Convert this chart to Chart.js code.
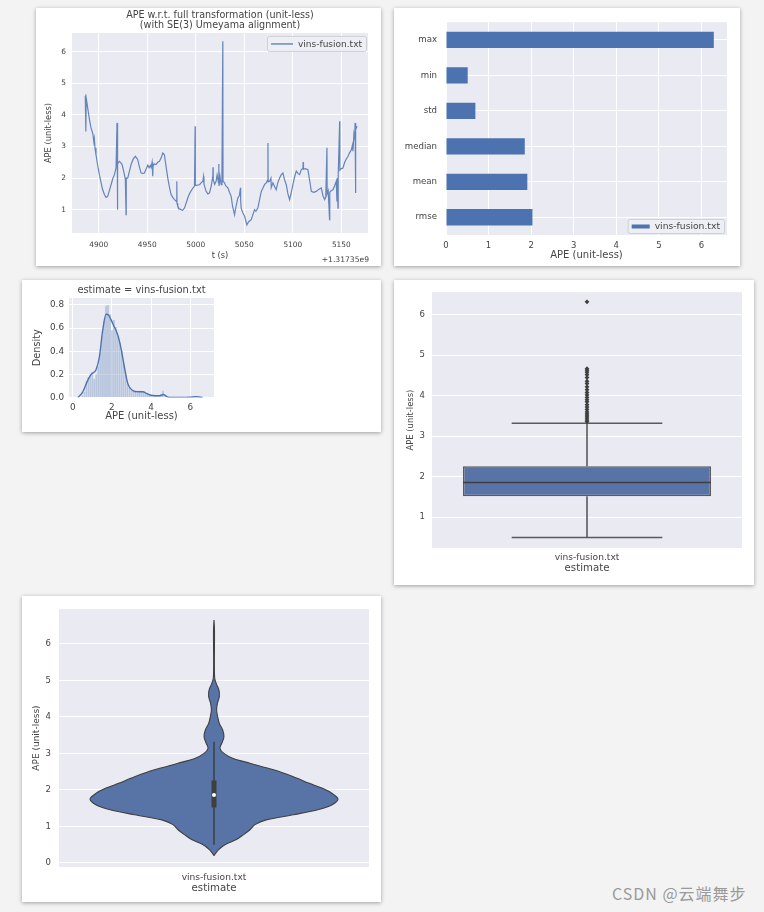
<!DOCTYPE html>
<html>
<head>
<meta charset="utf-8">
<script src="https://cdn.jsdelivr.net/npm/chart.js@4.4.1/dist/chart.umd.min.js"></script>
<style>
  body { margin:0; background:#f3f3f3; width:764px; height:912px; position:relative; overflow:hidden; font-family:"DejaVu Sans",sans-serif; }
  .card { position:absolute; background:#fff; box-shadow:0 1px 4px rgba(0,0,0,0.35); }
  .card canvas { display:block; }
  #wm { position:absolute; left:612px; top:881px; font:16px "Noto Sans CJK SC",sans-serif; color:#9a9a9a; letter-spacing:1px; }
</style>
</head>
<body>
<div class="card" style="left:36px;top:8px"><canvas id="c1" width="345" height="258"></canvas></div>
<div class="card" style="left:394px;top:8px"><canvas id="c2" width="346" height="258"></canvas></div>
<div class="card" style="left:22px;top:280px"><canvas id="c3" width="359" height="152"></canvas></div>
<div class="card" style="left:394px;top:280px"><canvas id="c4" width="360" height="305"></canvas></div>
<div class="card" style="left:22px;top:596px"><canvas id="c5" width="359" height="306"></canvas></div>
<div id="wm">CSDN @云端舞步</div>
<script>
/* ── DATA ── */
const ESTIMATE = ['vins-fusion.txt'];
const T_OFFSET = '+1.31735e9';

// APE over time (t minus offset)
const TIME = [4886.2,4886.6,4886.9,4887.1,4888.7,4890.5,4892.1,4894.0,4895.0,4895.5,4896.2,4897.2,4899.0,4900.7,4902.5,4904.1,4906.0,4907.6,4909.3,4910.5,
  4912.7,4914.5,4916.2,4917.9,4918.9,4919.0,4919.6,4919.8,4921.3,4922.5,4924.1,4925.5,4926.5,4927.5,4928.2,4928.4,4929.9,4931.5,4933.4,4935.5,
  4937.8,4940.2,4942.0,4943.7,4945.5,4947.1,4949.0,4950.6,4952.0,4953.2,4954.0,4955.0,4955.7,4956.0,4957.4,4959.1,4960.8,4962.6,4964.5,4966.0,
  4967.7,4969.5,4971.2,4973.0,4974.6,4976.5,4978.1,4980.4,4980.5,4980.7,4981.5,4983.0,4984.9,4986.5,4988.4,4990.0,4991.8,4993.5,4995.3,4997.0,
  4998.7,4999.4,4999.6,5001.5,5003.9,5005.5,5007.3,5008.0,5008.5,5010.7,5012.5,5014.2,5016.0,5017.6,5017.8,5018.0,5019.5,5021.0,5022.0,5023.5,
  5023.8,5024.0,5025.0,5026.2,5027.0,5027.9,5028.1,5029.6,5031.0,5033.1,5034.8,5036.5,5038.0,5040.0,5041.5,5043.4,5045.0,5046.1,5046.3,5046.8,
  5048.5,5050.3,5052.7,5054.5,5057.2,5059.0,5060.6,5062.0,5064.0,5066.0,5067.5,5069.5,5071.0,5072.6,5074.3,5074.4,5074.6,5076.1,5077.5,5077.8,
  5079.5,5081.0,5082.9,5084.5,5086.4,5088.0,5089.8,5091.5,5093.3,5095.0,5096.7,5098.5,5100.1,5102.0,5103.6,5105.3,5107.0,5108.5,5110.5,5110.7,
  5111.0,5113.0,5115.6,5117.5,5119.1,5121.5,5124.2,5127.0,5129.4,5131.0,5132.8,5134.0,5135.2,5135.4,5136.5,5137.9,5138.1,5139.5,5141.4,5143.0,
  5144.8,5145.5,5145.8,5146.6,5146.8,5148.3,5148.5,5150.0,5151.7,5153.5,5155.0,5156.9,5158.5,5160.3,5161.5,5162.0,5163.0,5163.8,5164.2,5164.5,
  5164.8,5165.0,5165.6,5166.2];
const APE = [4.60,4.65,3.48,4.55,4.22,3.85,3.59,3.40,3.15,3.25,2.95,2.74,2.40,2.11,1.85,1.63,1.47,1.39,1.42,1.55,
  1.79,1.98,2.11,2.32,3.75,2.35,1.00,2.45,2.53,2.50,2.43,2.25,2.11,1.95,0.84,2.00,2.00,2.20,2.43,2.60,
  2.69,2.59,2.35,2.16,2.15,2.16,2.30,2.41,2.33,2.40,2.34,2.50,2.06,2.38,2.45,2.43,2.50,2.53,2.65,2.80,
  2.74,2.35,2.00,1.70,1.48,1.38,1.32,1.25,1.90,1.20,1.11,1.03,1.00,0.98,1.05,1.20,1.37,1.50,1.60,1.68,
  1.74,3.64,1.76,1.78,1.79,1.85,1.90,2.05,1.80,1.58,1.50,1.53,1.75,2.06,2.34,1.95,1.80,1.90,2.10,1.85,
  2.45,1.75,2.05,1.79,2.10,6.34,1.90,1.85,1.75,1.69,1.55,1.42,1.10,0.84,1.10,1.37,1.45,1.69,1.30,1.05,
  0.90,0.79,0.52,0.62,0.68,0.85,1.00,0.95,1.05,1.35,1.58,1.70,1.80,1.85,1.95,3.11,1.88,1.90,2.00,1.70,
  1.85,1.75,1.63,1.85,2.00,2.10,2.16,1.95,1.79,1.50,1.32,1.55,1.79,2.05,2.22,2.15,2.11,2.25,2.32,2.51,
  2.28,2.30,2.27,1.90,1.58,1.55,1.58,1.65,1.69,1.45,1.32,1.40,2.96,1.50,1.60,0.68,1.55,1.60,1.63,1.75,
  1.90,1.26,2.00,1.05,2.10,3.80,2.25,2.30,2.32,2.50,2.60,2.69,2.80,2.90,3.05,2.85,3.40,3.27,3.75,3.30,
  1.53,3.55,3.60,3.64];

// statistics (barh)
const STAT_NAMES = ['max','min','std','median','mean','rmse'];
const STAT_VALUES = [6.29, 0.51, 0.69, 1.85, 1.91, 2.03];

// histogram (density) + kde
const HIST_X = [0.5,0.6,0.7,0.8,0.9,1.0,1.1,1.2,1.3,1.4,1.5,1.6,1.7,1.8,1.9,2.0,2.1,2.2,2.3,2.4,2.5,2.6,2.7,2.8,2.9,
  3.0,3.1,3.2,3.3,3.4,3.5,3.6,3.7,3.8,3.9,4.0,4.1,4.2,4.3,4.4,4.5,4.6,4.7,6.3];
const HIST_Y = [0.02,0.05,0.14,0.18,0.20,0.22,0.16,0.20,0.27,0.38,0.53,0.66,0.79,0.80,0.72,0.58,0.67,0.61,0.53,0.47,0.40,0.30,0.20,0.12,0.08,
  0.06,0.05,0.05,0.04,0.06,0.05,0.05,0.04,0.03,0.02,0.02,0.01,0.015,0.01,0.015,0.03,0.06,0.02,0.01];
const KDE_X = [0.26,0.51,0.77,0.94,1.19,1.36,1.53,1.70,1.84,2.04,2.30,2.47,2.64,2.81,3.06,3.32,3.57,3.83,4.08,4.42,4.63,4.85,5.10,5.60,6.00,6.29,6.63];
const KDE_Y = [0.0,0.046,0.15,0.20,0.24,0.35,0.58,0.72,0.71,0.64,0.54,0.42,0.26,0.12,0.06,0.05,0.05,0.03,0.017,0.015,0.026,0.003,0.0,0.0,0.002,0.006,0.0];

// box plot: whisker low, Q1, median, Q3, whisker high
const BOX_STATS = [0.50, 1.52, 1.86, 2.26, 3.32];
const OUTLIERS = [3.36,3.40,3.45,3.50,3.55,3.60,3.66,3.72,3.78,3.85,3.90,3.96,4.02,4.08,4.15,4.22,4.30,4.36,4.45,4.52,4.58,4.63,4.67,6.32];

// violin profile (normalised half width)
const VIOLIN_Y = [0.20,0.36,0.50,0.64,0.77,0.91,1.05,1.18,1.32,1.45,1.59,1.75,1.91,2.05,2.18,2.36,2.55,2.73,2.86,3.00,3.14,3.27,3.45,3.64,3.82,4.00,4.18,4.36,4.55,4.73,4.89,5.05,5.45,6.36,6.65];
const VIOLIN_W = [0.0,0.035,0.088,0.18,0.236,0.29,0.33,0.42,0.64,0.83,0.95,1.0,0.95,0.87,0.77,0.64,0.48,0.29,0.155,0.08,0.048,0.062,0.08,0.07,0.043,0.03,0.021,0.027,0.043,0.04,0.021,0.006,0.003,0.004,0.0];

/* ── DEFAULTS ── */
Chart.defaults.font.family = '"DejaVu Sans", sans-serif';
Chart.defaults.color = '#444';
Chart.defaults.animation = false;
Chart.defaults.events = [];
Chart.defaults.plugins.legend.display = false;
Chart.defaults.plugins.tooltip.enabled = false;

const BLUE = '#4c72b0';
const BOXBLUE = '#5874a6';
const DARK = '#3f3f3f';

// darkgrid background
Chart.register({
  id: 'plotBg',
  beforeDraw(c) {
    const a = c.chartArea, ctx = c.ctx;
    ctx.save();
    ctx.fillStyle = '#eaeaf2';
    ctx.fillRect(a.left, a.top, a.right - a.left, a.bottom - a.top);
    ctx.restore();
  }
});

// legend drawn inside the axes (matplotlib style)
function boxLegend(o) {
  return {
    id: 'boxLegend',
    afterDraw(c) {
      const ds = c.data.datasets[0], a = c.chartArea, ctx = c.ctx;
      ctx.save();
      ctx.font = o.size + 'px "DejaVu Sans"';
      const tw = ctx.measureText(ds.label).width;
      const w = 4 + o.line + 5 + tw + 4, h = o.h;
      const x = a.right - o.dx - w;
      const y = o.top ? a.top + o.dy : a.bottom - o.dy - h;
      ctx.fillStyle = 'rgba(238,238,245,0.9)';
      ctx.strokeStyle = '#cfcfd6';
      ctx.lineWidth = 1;
      ctx.beginPath();
      ctx.roundRect(x + 0.5, y + 0.5, w, h, 2);
      ctx.fill(); ctx.stroke();
      ctx.strokeStyle = BLUE;
      ctx.lineWidth = o.thick;
      ctx.beginPath();
      ctx.moveTo(x + 4, y + h / 2 + 0.5);
      ctx.lineTo(x + 4 + o.line, y + h / 2 + 0.5);
      ctx.stroke();
      ctx.fillStyle = '#444';
      ctx.textBaseline = 'middle';
      ctx.fillText(ds.label, x + 9 + o.line, y + h / 2 + 1);
      ctx.restore();
    }
  };
}

function xAxis(o) {
  const ax = {
    type: o.type || 'linear', position: 'bottom', min: o.min, max: o.max, offset: !!o.offset,
    grid: { display: o.grid !== false, color: '#fff', lineWidth: 1, drawTicks: false, offset: false },
    border: { display: false },
    ticks: { font: { size: o.tick }, padding: o.tpad, stepSize: o.step, includeBounds: false, maxRotation: 0, autoSkip: false },
    title: { display: !!o.title, text: o.title, font: { size: o.lab }, padding: { top: 0, bottom: o.titlePad } },
    afterFit: s => { s.height = o.size; }
  };
  if (o.cb) ax.ticks.callback = o.cb;
  if (o.only) ax.afterBuildTicks = s => { s.ticks = o.only.map(v => ({ value: v })); };
  return ax;
}

function yAxis(o) {
  const ax = {
    type: o.type || 'linear', min: o.min, max: o.max, offset: !!o.offset,
    grid: { color: '#fff', lineWidth: 1, drawTicks: false, offset: false },
    border: { display: false },
    ticks: { font: { size: o.tick }, padding: o.tpad, includeBounds: false, autoSkip: false },
    title: { display: !!o.title, text: o.title, font: { size: o.lab }, padding: { top: o.titlePad, bottom: 0 } },
    afterFit: s => { s.width = o.size; }
  };
  if (o.step) ax.ticks.stepSize = o.step;
  if (o.cb) ax.ticks.callback = o.cb;
  return ax;
}

/* ── APE OVER TIME ── */
new Chart(document.getElementById('c1'), {
  type: 'scatter',
  data: {
    datasets: [{
      label: ESTIMATE[0],
      data: TIME.map((t, i) => ({ x: t, y: APE[i] })),
      showLine: true, borderColor: 'rgba(76,114,176,0.85)', borderWidth: 1.2, pointRadius: 0, tension: 0
    }]
  },
  options: {
    responsive: false,
    layout: { padding: { left: 0, right: 13, top: 0, bottom: 0 } },
    plugins: {
      title: { display: true, fullSize: false, text: ['APE w.r.t. full transformation (unit-less)', '(with SE(3) Umeyama alignment)'],
        font: { size: 9.6, weight: 'normal', lineHeight: 1.05 }, color: '#444', padding: { top: 2.5, bottom: 2.3 } }
    },
    scales: {
      x: xAxis({ min: 4872.5, max: 5177.5, step: 50, tick: 7.4, tpad: 7.3, title: 't (s)', lab: 8.3, titlePad: 5.4, size: 33, cb: v => String(v) }),
      y: yAxis({ min: 0.26, max: 6.6, step: 1, tick: 7.4, tpad: 6, title: 'APE (unit-less)', lab: 8.3, titlePad: 8, size: 36 })
    }
  },
  plugins: [boxLegend({ size: 9, line: 22, thick: 1.2, h: 15, dx: 2, dy: 3, top: true }), {
    id: 'offsetText',
    afterDraw(c) {
      const ctx = c.ctx, a = c.chartArea;
      ctx.save();
      ctx.font = '7.6px "DejaVu Sans"';
      ctx.fillStyle = '#444';
      ctx.textAlign = 'right';
      ctx.textBaseline = 'middle';
      ctx.fillText(T_OFFSET, a.right + 1, a.bottom + 27);
      ctx.restore();
    }
  }]
});

/* ── STATISTICS ── */
new Chart(document.getElementById('c2'), {
  type: 'bar',
  data: {
    labels: STAT_NAMES,
    datasets: [{ label: ESTIMATE[0], data: STAT_VALUES, backgroundColor: BLUE, categoryPercentage: 1, barPercentage: 0.46 }]
  },
  options: {
    responsive: false,
    indexAxis: 'y',
    layout: { padding: { left: 0, right: 13, top: 9, bottom: 0 } },
    scales: {
      x: xAxis({ min: 0, max: 6.6, step: 1, tick: 8.5, tpad: 5.2, title: 'APE (unit-less)', lab: 10, titlePad: 4.2, size: 31 }),
      y: yAxis({ type: 'category', offset: true, tick: 8.6, tpad: 9, size: 52 })
    }
  },
  plugins: [boxLegend({ size: 9.2, line: 18, thick: 4, h: 14, dx: 3, dy: 2, top: false })]
});

/* ── HISTOGRAM ── */
new Chart(document.getElementById('c3'), {
  type: 'bar',
  data: {
    datasets: [
      { type: 'line', data: KDE_X.map((x, i) => ({ x, y: KDE_Y[i] })), borderColor: BLUE, borderWidth: 1.4,
        pointRadius: 0, cubicInterpolationMode: 'monotone' },
      { type: 'bar', data: HIST_X.map((x, i) => ({ x, y: HIST_Y[i] })), backgroundColor: 'rgba(76,114,176,0.33)',
        borderColor: 'rgba(255,255,255,0.5)', borderWidth: 0.3, categoryPercentage: 1, barPercentage: 1 }
    ]
  },
  options: {
    responsive: false,
    layout: { padding: { left: 0, right: 167, top: 0, bottom: 0 } },
    plugins: {
      title: { display: true, fullSize: false, text: 'estimate = ' + ESTIMATE[0], font: { size: 9.9, weight: 'normal', lineHeight: 1.15 },
        color: '#444', padding: { top: 5, bottom: 1.6 } }
    },
    scales: {
      x: xAxis({ min: -0.19, max: 7.21, step: 2, tick: 8.8, tpad: 4.7, title: 'APE (unit-less)', lab: 10, titlePad: 9.4, size: 34.5 }),
      y: yAxis({ min: 0, max: 0.86, step: 0.2, tick: 8.8, tpad: 5, title: 'Density', lab: 9.8, titlePad: 9.2, size: 47, cb: v => v.toFixed(1) })
    }
  }
});

/* ── BOX PLOT ── */
const BOX_HALF = 0.4, CAP_HALF = 0.243;
const [LO, Q1, MED, Q3, HI] = BOX_STATS;
new Chart(document.getElementById('c4'), {
  type: 'scatter',
  data: {
    datasets: [
      { type: 'line', data: [{ x: -BOX_HALF, y: MED }, { x: BOX_HALF, y: MED }], borderColor: DARK, borderWidth: 1.5, pointRadius: 0 },
      { type: 'scatter', data: OUTLIERS.map(y => ({ x: 0, y })), pointStyle: 'rectRot', pointRadius: 2.4, backgroundColor: DARK, borderColor: DARK, borderWidth: 0 },
      { type: 'line', data: [{ x: 0, y: LO }, { x: 0, y: Q1 }, { x: 0, y: null }, { x: 0, y: Q3 }, { x: 0, y: HI }, { x: 0, y: null },
          { x: -CAP_HALF, y: LO }, { x: CAP_HALF, y: LO }, { x: 0, y: null }, { x: -CAP_HALF, y: HI }, { x: CAP_HALF, y: HI }],
        borderColor: '#5a5a5a', borderWidth: 1.6, pointRadius: 0, spanGaps: false },
      { type: 'bar', data: [{ x: 0, y: [Q1, Q3] }], backgroundColor: BOXBLUE, borderColor: '#5a5a5a', borderWidth: 1.5,
        borderSkipped: false, categoryPercentage: 0.8, barPercentage: 1 }
    ]
  },
  options: {
    responsive: false,
    layout: { padding: { left: 0, right: 12, top: 10, bottom: 0 } },
    scales: {
      x: xAxis({ min: -0.5, max: 0.5, grid: false, only: [0], cb: () => ESTIMATE[0], tick: 9.1, tpad: 4.6, title: 'estimate', lab: 10.2, titlePad: 10.2, size: 37 }),
      y: yAxis({ min: 0.24, max: 6.56, step: 1, tick: 8.5, tpad: 7, title: 'APE (unit-less)', lab: 8.4, titlePad: 11.6, size: 38 })
    }
  }
});

/* ── VIOLIN ── */
const VIOLIN_HALF = 0.4;
const violinPts = VIOLIN_Y.map((y, i) => ({ x: VIOLIN_W[i] * VIOLIN_HALF, y }))
  .concat(VIOLIN_Y.map((y, i) => ({ x: -VIOLIN_W[i] * VIOLIN_HALF, y })).reverse());
new Chart(document.getElementById('c5'), {
  type: 'scatter',
  data: {
    datasets: [
      { type: 'scatter', data: [{ x: 0, y: MED }], pointRadius: 2, backgroundColor: '#fff', borderWidth: 0 },
      { type: 'line', data: [{ x: 0, y: Q1 }, { x: 0, y: Q3 }], borderColor: DARK, borderWidth: 5, pointRadius: 0 },
      { type: 'line', data: [{ x: 0, y: LO }, { x: 0, y: HI }], borderColor: DARK, borderWidth: 1.5, pointRadius: 0 },
      { type: 'line', data: violinPts, fill: 'shape', backgroundColor: BOXBLUE, borderColor: DARK, borderWidth: 1.1,
        pointRadius: 0, tension: 0.3 }
    ]
  },
  options: {
    responsive: false,
    layout: { padding: { left: 0, right: 12, top: 12, bottom: 0 } },
    scales: {
      x: xAxis({ min: -0.5, max: 0.5, grid: false, only: [0], cb: () => ESTIMATE[0], tick: 9.1, tpad: 5.3, title: 'estimate', lab: 10.2, titlePad: 7.6, size: 35 }),
      y: yAxis({ min: -0.11, max: 6.95, step: 1, tick: 8.5, tpad: 8, title: 'APE (unit-less)', lab: 9, titlePad: 9.6, size: 37 })
    }
  }
});
</script>
</body>
</html>
